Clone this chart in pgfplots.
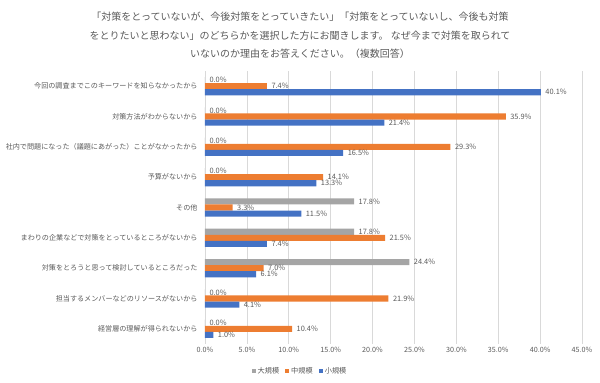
\documentclass[border=0pt]{standalone}
\usepackage{fontspec}
\setmainfont{Noto Sans CJK JP}
\usepackage{pgfplots}
\usepackage{pgfplotstable}
\pgfplotsset{compat=1.18}
\definecolor{cgray}{HTML}{A5A5A5}
\definecolor{corange}{HTML}{ED7D31}
\definecolor{cblue}{HTML}{4472C4}
\definecolor{ctext}{HTML}{595959}
\definecolor{cgrid}{HTML}{D9D9D9}
\pgfplotstableread{
idx large mid small
0 0.0 7.4 40.1
1 0.0 35.9 21.4
2 0.0 29.3 16.5
3 0.0 14.1 13.3
4 17.8 3.3 11.5
5 17.8 21.5 7.4
6 24.4 7.0 6.1
7 0.0 21.9 4.1
8 0.0 10.4 1.0
}\datatable
\begin{document}
\begin{tikzpicture}[x=1pt,y=1pt]
\useasboundingbox (0,0) rectangle (600,383);
\node[font=\fontsize{10}{12}\selectfont, text=ctext] at (300,366) {「対策をとっていないが、今後対策をとっていきたい」「対策をとっていないし、今後も対策};
\node[font=\fontsize{10}{12}\selectfont, text=ctext] at (300,347) {をとりたいと思わない」のどちらかを選択した方にお聞きします。 なぜ今まで対策を取られて};
\node[font=\fontsize{10}{12}\selectfont, text=ctext] at (300,329) {いないのか理由をお答えください。（複数回答）};
\begin{axis}[
  at={(205pt,39pt)}, anchor=south west,
  scale only axis, width=377pt, height=273pt,
  xmin=0, xmax=45, ymin=-0.5, ymax=8.5, y dir=reverse,
  xbar, bar width=0.2,
  xtick={0,5,...,45},
  xticklabel={\pgfmathprintnumber[fixed,fixed zerofill,precision=1]{\tick}\%},
  /pgf/number format/assume math mode=true,
  ytick={0,...,8},
  yticklabels={今回の調査までこのキーワードを知らなかったから,対策方法がわからないから,社内で問題になった（議題にあがった）ことがなかったから,予算がないから,その他,まわりの企業などで対策をとっているところがないから,対策をとろうと思って検討しているところだった,担当するメンバーなどのリソースがないから,経営層の理解が得られないから},
  yticklabel style={font=\fontsize{7.1}{8}\selectfont, text=ctext},
  xticklabel style={font=\fontsize{7.2}{8}\selectfont, text=ctext},
  major tick length=0pt,
  xmajorgrids, grid style={cgrid, line width=0.6pt},
  axis line style={draw=none},
  y tick label style={xshift=-4pt},
  nodes near coords={\pgfmathprintnumber[fixed,fixed zerofill,precision=1]{\pgfplotspointmeta}\%},
  point meta=x,
  every node near coord/.append style={font=\fontsize{7.4}{8}\selectfont, text=ctext, /pgf/number format/assume math mode=true, xshift=1pt},
  legend columns=3,
  legend style={at={(0.252,-0.099)}, anchor=center, draw=none, font=\fontsize{7.2}{8}\selectfont, text=ctext, /tikz/every even column/.append style={column sep=4pt}},
  legend image code/.code={\fill[#1] (0pt,-2pt) rectangle (4pt,2pt);},
]
\addplot[fill=cgray, draw=none, bar shift=-0.2] table[x=large,y=idx]{\datatable};
\addplot[fill=corange, draw=none, bar shift=0] table[x=mid,y=idx]{\datatable};
\addplot[fill=cblue, draw=none, bar shift=0.2] table[x=small,y=idx]{\datatable};
\legend{大規模,中規模,小規模}
\end{axis}
\end{tikzpicture}
\end{document}
